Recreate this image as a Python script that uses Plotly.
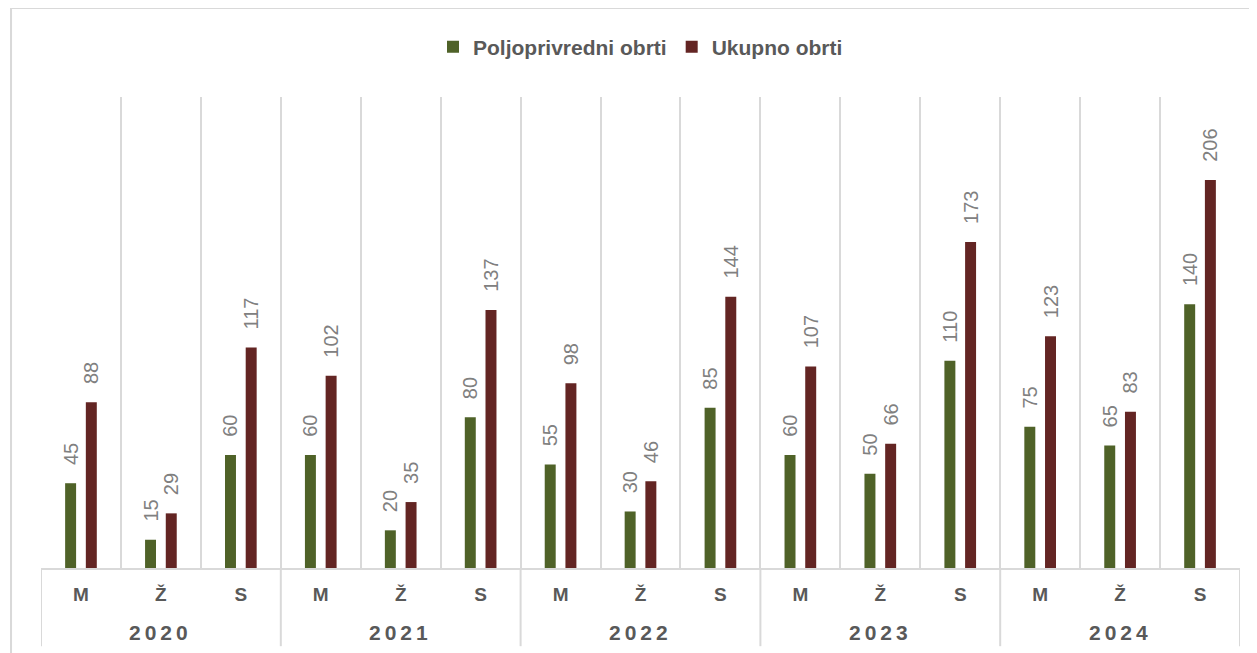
import plotly.graph_objects as go

years = ["2020", "2021", "2022", "2023", "2024"]
groups = ["M", "Ž", "S"]
poljoprivredni = [45, 15, 60, 60, 20, 80, 55, 30, 85, 60, 50, 110, 75, 65, 140]
ukupno = [88, 29, 117, 102, 35, 137, 98, 46, 144, 107, 66, 173, 123, 83, 206]
series_names = ["Poljoprivredni obrti", "Ukupno obrti"]

x_inner = [g for _ in years for g in groups]
idx = list(range(len(x_inner)))

GREEN = "#4F6228"
RED = "#632523"
GRID = "#d9d9d9"
FONT = "Liberation Sans"
TXT = "#595959"

fig = go.Figure()
for name, vals, col in [(series_names[0], poljoprivredni, GREEN), (series_names[1], ukupno, RED)]:
    fig.add_trace(go.Bar(
        x=idx, y=vals, name=name,
        marker=dict(color=col, line=dict(width=0)),
        texttemplate="\u00a0\u00a0\u2009%{y}", textposition="outside", textangle=-90,
        constraintext="none", cliponaxis=False,
        textfont=dict(family=FONT, size=20, color="#808080"),
        hovertemplate="%{y}<extra>" + name + "</extra>",
    ))

n = len(groups)
boundaries = [i - 0.5 for i in range(len(x_inner) + 1)]
year_bounds = [i * n - 0.5 for i in range(len(years) + 1)]

annotations = [
    dict(x=i * n + (n - 1) / 2, y=-0.136, xref="x", yref="paper",
         text=f'<span style="letter-spacing:4px">{yr}</span>', showarrow=False,
         xanchor="center", yanchor="middle",
         font=dict(family=FONT, size=21, color=TXT, weight="bold"))
    for i, yr in enumerate(years)
]
shapes = [dict(type="rect", xref="paper", yref="paper",
               x0=-0.025, x1=1.02, y0=-0.2, y1=1.189,
               line=dict(color=GRID, width=2), fillcolor="rgba(0,0,0,0)", layer="below")]
shapes += [dict(type="line", xref="x", yref="paper", x0=b, x1=b, y0=0, y1=-0.166,
                line=dict(color=GRID, width=2), layer="below") for b in year_bounds]

# page body has an 8px margin, so the figure is 8px smaller than the window
fig.update_layout(
    width=1249, height=645,
    margin=dict(l=33, r=17, t=89, b=85),
    paper_bgcolor="white", plot_bgcolor="white",
    barmode="group", bargap=0.482, bargroupgap=0.47,
    showlegend=True,
    legend=dict(orientation="h", x=0.5, xanchor="center", y=1.106, yanchor="middle",
                font=dict(family=FONT, size=21, color=TXT, weight="bold"),
                itemwidth=30, traceorder="normal"),
    annotations=annotations,
    shapes=shapes,
)
fig.update_xaxes(
    range=[-0.5, len(x_inner) - 0.5],
    tickmode="array", tickvals=idx, ticktext=x_inner,
    showgrid=False, zeroline=False,
    minor=dict(tickmode="array", tickvals=boundaries, showgrid=True,
               gridcolor=GRID, gridwidth=2, ticks=""),
    showline=True, linecolor=GRID, linewidth=2,
    ticks="", ticklabelstandoff=8,
    tickfont=dict(family=FONT, size=19, color=TXT, weight="bold"),
)
fig.update_yaxes(range=[0, 250], visible=False, showgrid=False, zeroline=False)

fig.write_html("out.html")
